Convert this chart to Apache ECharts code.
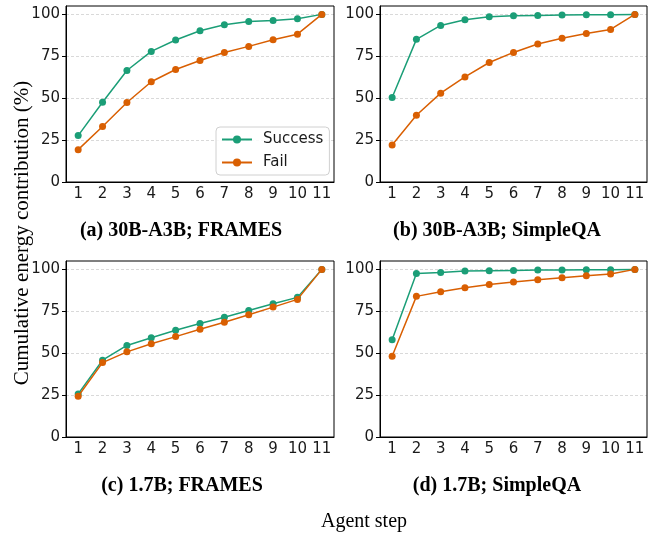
<!DOCTYPE html>
<html>
<head>
<meta charset="utf-8">
<script src="https://cdn.jsdelivr.net/npm/echarts@6/dist/echarts.min.js"></script>
<style>
html,body{margin:0;padding:0;background:#fff;}
#chart{width:655px;height:535px;}
</style>
</head>
<body>
<div id="chart"></div>
<script>
const steps = ['1','2','3','4','5','6','7','8','9','10','11'];
const yTicks = [0, 25, 50, 75, 100];

const aSuccess = [27.7, 47.6, 66.5, 77.9, 84.7, 90.2, 93.8, 95.8, 96.4, 97.4, 100];
const aFail    = [19.3, 33.1, 47.4, 59.8, 67.1, 72.5, 77.3, 80.9, 84.9, 88.2, 100];
const bSuccess = [50.4, 85.1, 93.4, 96.8, 98.6, 99.2, 99.4, 99.6, 99.8, 99.8, 100];
const bFail    = [22.1, 39.8, 53.0, 62.7, 71.3, 77.3, 82.3, 85.7, 88.6, 91.0, 100];
const cSuccess = [25.7, 45.8, 54.6, 59.2, 63.7, 67.7, 71.5, 75.5, 79.5, 83.3, 100];
const cFail    = [24.3, 44.4, 50.8, 55.6, 59.9, 64.3, 68.5, 72.9, 77.5, 82.1, 100];
const dSuccess = [58.0, 97.6, 98.2, 99.0, 99.2, 99.4, 99.6, 99.6, 99.8, 99.8, 100];
const dFail    = [48.2, 83.9, 86.7, 89.0, 91.0, 92.4, 93.8, 95.0, 96.2, 97.2, 100];

const captions = ['(a) 30B-A3B; FRAMES', '(b) 30B-A3B; SimpleQA', '(c) 1.7B; FRAMES', '(d) 1.7B; SimpleQA'];
const yLabel = 'Cumulative energy contribution (%)';
const xLabel = 'Agent step';
const seriesNames = ['Success', 'Fail'];

const panels = [[aSuccess, aFail], [bSuccess, bFail], [cSuccess, cFail], [dSuccess, dFail]];
const colors = ['#1b9e77', '#d95f02'];

const gridPos = [
  {left: 66, top: 6, width: 268, height: 176},
  {left: 380, top: 6, width: 267, height: 176},
  {left: 66, top: 261, width: 268, height: 176},
  {left: 380, top: 261, width: 267, height: 176}
];
const capPos = [[181, 231], [497, 231], [182, 486], [497, 486]];

const tickFont = {fontFamily: 'DejaVu Sans', fontSize: 15, color: '#1a1a1a'};

const grids = gridPos.map(g => Object.assign({show: true, borderColor: '#000', borderWidth: 1, backgroundColor: 'transparent', z: 5}, g));
const xAxes = gridPos.map((g, i) => ({
  type: 'category', gridIndex: i, data: steps, boundaryGap: true,
  axisLine: {lineStyle: {color: '#000', width: 1}},
  axisTick: {alignWithLabel: true, length: 4, lineStyle: {color: '#000'}},
  axisLabel: Object.assign({margin: 5, interval: 0}, tickFont),
  splitLine: {show: false}
}));
const yAxes = gridPos.map((g, i) => ({
  type: 'value', gridIndex: i, min: 0, max: 105, interval: 25,
  axisLine: {show: true, lineStyle: {color: '#000', width: 1}},
  axisTick: {show: true, length: 4, lineStyle: {color: '#000'}},
  axisLabel: Object.assign({margin: 6, showMaxLabel: false,
    formatter: v => (yTicks.indexOf(v) >= 0 ? String(v) : '')}, tickFont),
  splitLine: {show: true, showMinLine: false, showMaxLine: false,
    lineStyle: {color: '#cfcfcf', type: [3, 2], width: 0.8}}
}));

const series = [];
panels.forEach((p, i) => {
  p.forEach((vals, k) => {
    series.push({
      name: seriesNames[k], type: 'line', xAxisIndex: i, yAxisIndex: i,
      data: vals, symbol: 'circle', symbolSize: 7,
      lineStyle: {color: colors[k], width: 1.5},
      itemStyle: {color: colors[k]},
      emphasis: {disabled: true}, animation: false, z: 3 + k
    });
  });
});

const graphics = captions.map((c, i) => ({
  type: 'text', x: capPos[i][0], y: capPos[i][1],
  style: {text: c, font: 'bold 20px "Liberation Serif"', fill: '#000', textAlign: 'center', textVerticalAlign: 'middle'}
}));
graphics.push({
  type: 'text', x: 364, y: 522,
  style: {text: xLabel, font: '20px "Liberation Serif"', fill: '#000', textAlign: 'center', textVerticalAlign: 'middle'}
});
graphics.push({
  type: 'text', x: 22, y: 233, rotation: Math.PI / 2,
  style: {text: yLabel, font: '21px "Liberation Serif"', fill: '#000', textAlign: 'center', textVerticalAlign: 'middle'}
});

const chart = echarts.init(document.getElementById('chart'), null, {renderer: 'canvas'});
chart.setOption({
  animation: false,
  backgroundColor: '#fff',
  grid: grids, xAxis: xAxes, yAxis: yAxes, series: series,
  legend: {
    data: seriesNames, orient: 'vertical', left: 216, top: 127,
    itemWidth: 30, itemHeight: 10, itemGap: 8,
    padding: [5, 6, 5, 5],
    borderColor: '#d0d0d0', borderWidth: 1, borderRadius: 4,
    backgroundColor: 'rgba(255,255,255,0.85)',
    textStyle: {fontFamily: 'DejaVu Sans', fontSize: 15, color: '#1a1a1a', padding: [0, 0, 0, 6]},
    selectedMode: false
  },
  graphic: graphics
});
</script>
</body>
</html>
